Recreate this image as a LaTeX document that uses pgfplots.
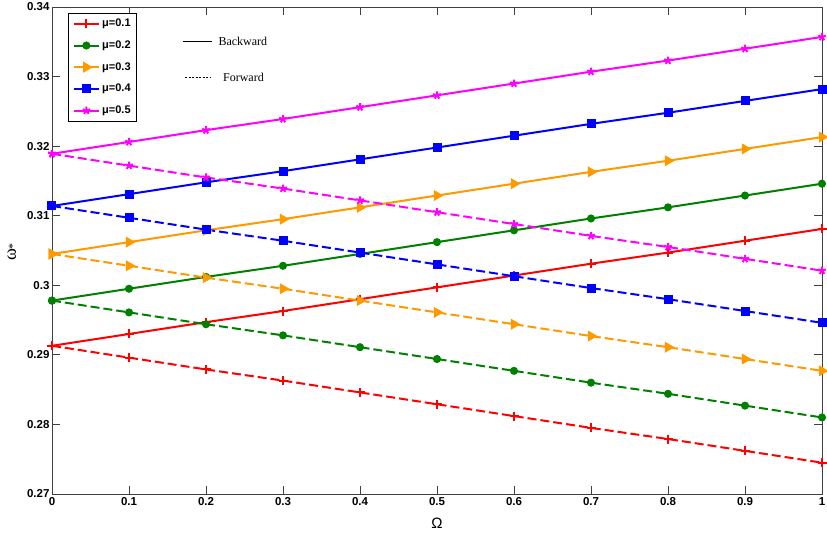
\documentclass[border=0pt]{standalone}
\usepackage{fontspec}
\setmainfont{Liberation Sans}
\newfontfamily\timesfont{Liberation Serif}
\usepackage{pgfplots}
\usepackage{pgfplotstable}
\pgfplotsset{compat=1.18}
\usetikzlibrary{calc}

\definecolor{mred}{rgb}{1,0,0}
\definecolor{mgreen}{rgb}{0,0.5,0}
\definecolor{morange}{rgb}{1,0.6,0}
\definecolor{mblue}{rgb}{0,0,1}
\definecolor{mmag}{rgb}{1,0,1}

% backward whirl
\pgfplotstableread{
x    m1     m2     m3     m4     m5
0.0  0.2913 0.2978 0.3045 0.3114 0.3189
0.1  0.2930 0.2995 0.3062 0.3131 0.3206
0.2  0.2947 0.3012 0.3079 0.3148 0.3223
0.3  0.2963 0.3028 0.3095 0.3164 0.3239
0.4  0.2980 0.3045 0.3112 0.3181 0.3256
0.5  0.2997 0.3062 0.3129 0.3198 0.3273
0.6  0.3014 0.3079 0.3146 0.3215 0.3290
0.7  0.3031 0.3096 0.3163 0.3232 0.3307
0.8  0.3047 0.3112 0.3179 0.3248 0.3323
0.9  0.3064 0.3129 0.3196 0.3265 0.3340
1.0  0.3081 0.3146 0.3213 0.3282 0.3357
}\backward

% forward whirl
\pgfplotstableread{
x    m1     m2     m3     m4     m5
0.0  0.2913 0.2978 0.3045 0.3114 0.3189
0.1  0.2896 0.2961 0.3028 0.3097 0.3172
0.2  0.2879 0.2944 0.3011 0.3080 0.3155
0.3  0.2863 0.2928 0.2995 0.3064 0.3139
0.4  0.2846 0.2911 0.2978 0.3047 0.3122
0.5  0.2829 0.2894 0.2961 0.3030 0.3105
0.6  0.2812 0.2877 0.2944 0.3013 0.3088
0.7  0.2795 0.2860 0.2927 0.2996 0.3071
0.8  0.2779 0.2844 0.2911 0.2980 0.3055
0.9  0.2762 0.2827 0.2894 0.2963 0.3038
1.0  0.2745 0.2810 0.2877 0.2946 0.3021
}\forward

\begin{document}
\begin{tikzpicture}
\begin{axis}[
    scale only axis,
    width=770pt, height=487pt,
    xmin=0, xmax=1, ymin=0.27, ymax=0.34,
    xtick={0,0.1,0.2,0.3,0.4,0.5,0.6,0.7,0.8,0.9,1},
    ytick={0.27,0.28,0.29,0.3,0.31,0.32,0.33,0.34},
    tick align=inside,
    major tick length=8pt,
    axis line style={black!75, line width=0.8pt},
    tick style={black!75, line width=0.8pt},
    /pgf/number format/assume math mode=true,
    yticklabel style={/pgf/number format/fixed, /pgf/number format/precision=2, xshift=1pt},
    tick label style={font=\fontsize{11.5}{13}\selectfont\bfseries},
    xlabel={\fontsize{15}{17}\selectfont Ω},
    xlabel style={at={(axis description cs:0.5,0)}, anchor=center, yshift=-29pt},
    ylabel={\timesfont\fontsize{18}{20}\selectfont ω\raisebox{-0.1ex}{\fontsize{12}{12}\selectfont *}},
    ylabel style={at={(axis description cs:0,0.497)}, anchor=center, inner sep=0pt, yshift=40pt},
    legend style={at={(0.021,0.988)}, anchor=north west, draw=black,
        line width=0.8pt, font=\fontsize{11}{13}\selectfont\bfseries,
        inner sep=4pt, row sep=8.5pt},
    legend cell align=left,
    legend image code/.code={
        \draw[mark repeat=2, mark phase=2] plot coordinates {(0cm,0cm) (0.45cm,0cm) (0.9cm,0cm)};},
    every axis plot/.append style={line width=2pt},
    fwd/.style={dash pattern=on 9pt off 4pt},
]
\addplot[mred, mark=+, mark size=4.5pt] table[x=x, y=m1] {\backward};
\addlegendentry{μ=0.1}
\addplot[mgreen, mark=*, mark size=3pt] table[x=x, y=m2] {\backward};
\addlegendentry{μ=0.2}
\addplot[morange, mark=triangle*, mark options={rotate=-90}, mark size=4.5pt] table[x=x, y=m3] {\backward};
\addlegendentry{μ=0.3}
\addplot[mblue, mark=square*, mark size=3.5pt] table[x=x, y=m4] {\backward};
\addlegendentry{μ=0.4}
\addplot[mmag, mark=star, mark size=4pt] table[x=x, y=m5] {\backward};
\addlegendentry{μ=0.5}

\addplot[fwd, mred, mark=+, mark size=4.5pt, mark options={solid}, forget plot] table[x=x, y=m1] {\forward};
\addplot[fwd, mgreen, mark=*, mark size=3pt, mark options={solid}, forget plot] table[x=x, y=m2] {\forward};
\addplot[fwd, morange, mark=triangle*, mark options={solid, rotate=-90}, mark size=4.5pt, forget plot] table[x=x, y=m3] {\forward};
\addplot[fwd, mblue, mark=square*, mark size=3.5pt, mark options={solid}, forget plot] table[x=x, y=m4] {\forward};
\addplot[fwd, mmag, mark=star, mark size=4pt, mark options={solid}, forget plot] table[x=x, y=m5] {\forward};

% line-style key
\draw[black, line width=1pt] (axis cs:0.170,0.3350) -- (axis cs:0.208,0.3350);
\node[anchor=west, inner sep=0pt, font=\timesfont\fontsize{12}{14}\selectfont]
    at (axis cs:0.216,0.3351) {Backward};
\draw[black, line width=1pt, dash pattern=on 2pt off 1.5pt] (axis cs:0.173,0.3298) -- (axis cs:0.206,0.3298);
\node[anchor=west, inner sep=0pt, font=\timesfont\fontsize{12}{14}\selectfont]
    at (axis cs:0.222,0.3299) {Forward};
\end{axis}
\pgfresetboundingbox
\path[use as bounding box] ($(current axis.south west)+(-52pt,-42pt)$) rectangle ($(current axis.north east)+(5pt,7pt)$);
\end{tikzpicture}
\end{document}
